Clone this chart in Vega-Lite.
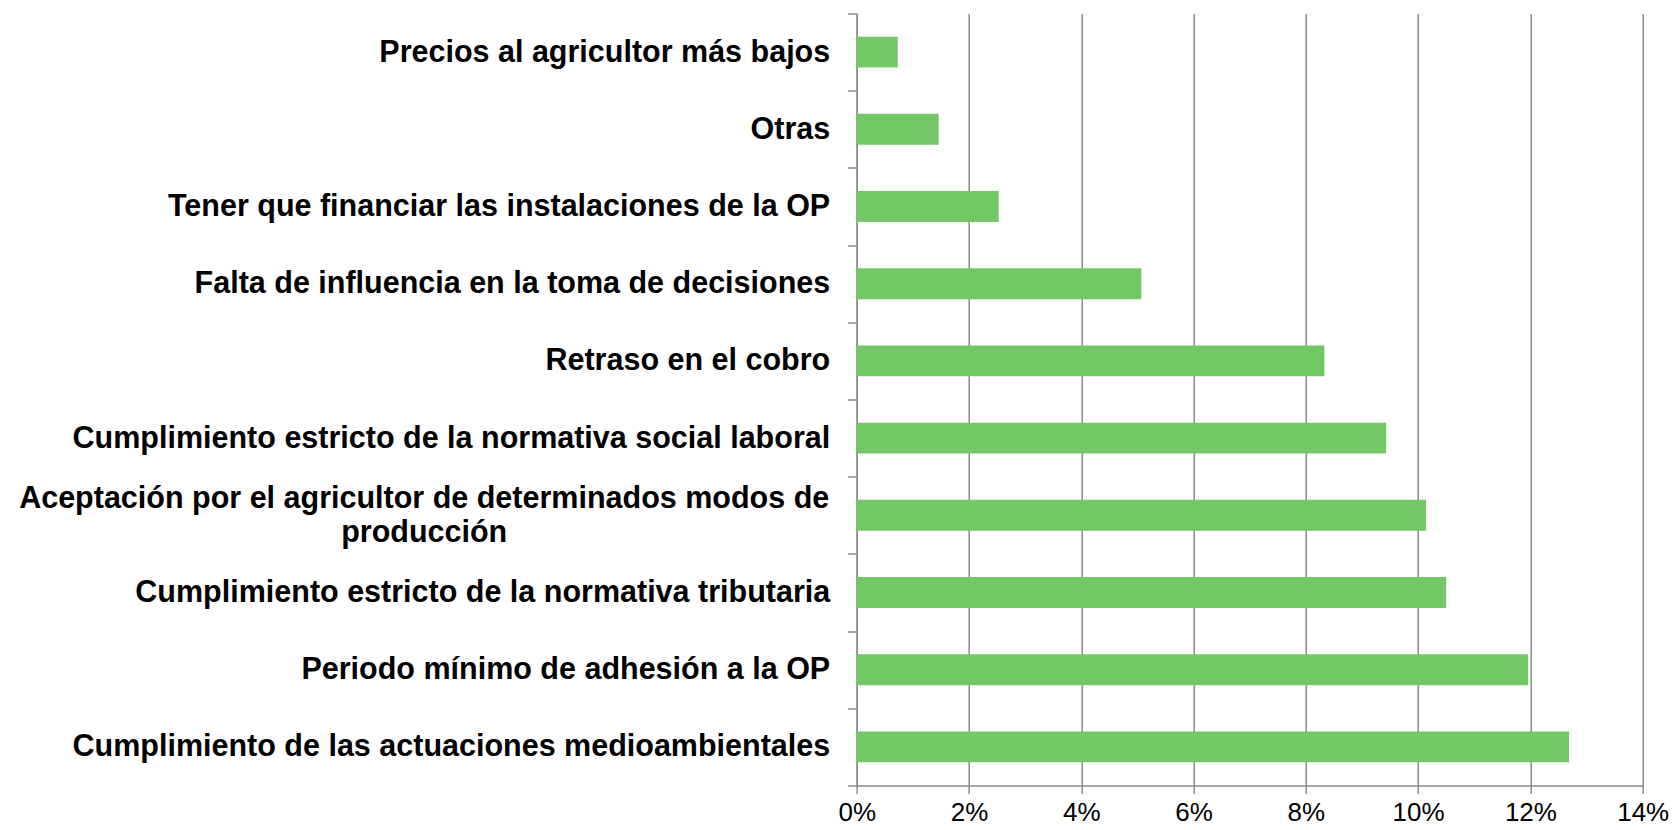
{
  "$schema": "https://vega.github.io/schema/vega-lite/v6.json",
  "width": 786,
  "height": 772,
  "autosize": {"type": "none"},
  "padding": {"left": 856.7, "top": 13.5, "right": 36.3, "bottom": 44.5},
  "background": "white",
  "data": {
    "values": [
      {"motivo": "Precios al agricultor más bajos", "pct": 0.0073},
      {"motivo": "Otras", "pct": 0.0146},
      {"motivo": "Tener que financiar las instalaciones de la OP", "pct": 0.0253},
      {"motivo": "Falta de influencia en la toma de decisiones", "pct": 0.0507},
      {"motivo": "Retraso en el cobro", "pct": 0.0833},
      {"motivo": "Cumplimiento estricto de la normativa social laboral", "pct": 0.0943},
      {"motivo": "Aceptación por el agricultor de determinados modos de producción", "pct": 0.1014},
      {"motivo": "Cumplimiento estricto de la normativa tributaria", "pct": 0.1050},
      {"motivo": "Periodo mínimo de adhesión a la OP", "pct": 0.1196},
      {"motivo": "Cumplimiento de las actuaciones medioambientales", "pct": 0.1269}
    ]
  },
  "mark": {"type": "bar", "color": "#73C766", "height": {"band": 0.4}},
  "encoding": {
    "y": {
      "field": "motivo",
      "type": "nominal",
      "sort": null,
      "title": null,
      "scale": {"paddingInner": 0, "paddingOuter": 0},
      "axis": {
        "tickBand": "extent",
        "tickSize": 9,
        "tickColor": "#8a8a8a",
        "tickWidth": 1.5,
        "domainColor": "#8a8a8a",
        "domainWidth": 1.5,
        "grid": false,
        "labelFont": "Liberation Sans",
        "labelFontSize": 30.5,
        "labelFontWeight": "bold",
        "labelColor": "black",
        "labelLimit": 0,
        "labelLineHeight": 34,
        "labelExpr": "datum.value == 'Aceptación por el agricultor de determinados modos de producción' ? ['Aceptación por el agricultor de determinados modos de', 'producción'] : datum.value",
        "labelAlign": {"condition": {"test": "datum.value == 'Aceptación por el agricultor de determinados modos de producción'", "value": "center"}, "value": "right"},
        "labelPadding": {"condition": {"test": "datum.value == 'Aceptación por el agricultor de determinados modos de producción'", "value": 424}, "value": 18},
        "labelOffset": {"condition": {"test": "datum.value == 'Aceptación por el agricultor de determinados modos de producción'", "value": -17}, "value": 0}
      }
    },
    "x": {
      "field": "pct",
      "type": "quantitative",
      "title": null,
      "scale": {"domain": [0, 0.14], "nice": false},
      "axis": {
        "values": [0, 0.02, 0.04, 0.06, 0.08, 0.1, 0.12, 0.14],
        "format": ".0%",
        "grid": true,
        "gridColor": "#8a8a8a",
        "gridWidth": 1.5,
        "tickSize": 8,
        "tickColor": "#8a8a8a",
        "tickWidth": 1.5,
        "domainColor": "#8a8a8a",
        "domainWidth": 1.5,
        "labelFont": "Liberation Sans",
        "labelFontSize": 26,
        "labelColor": "black",
        "labelPadding": 6,
        "labelFlush": false
      }
    }
  },
  "config": {"view": {"stroke": null}}
}
